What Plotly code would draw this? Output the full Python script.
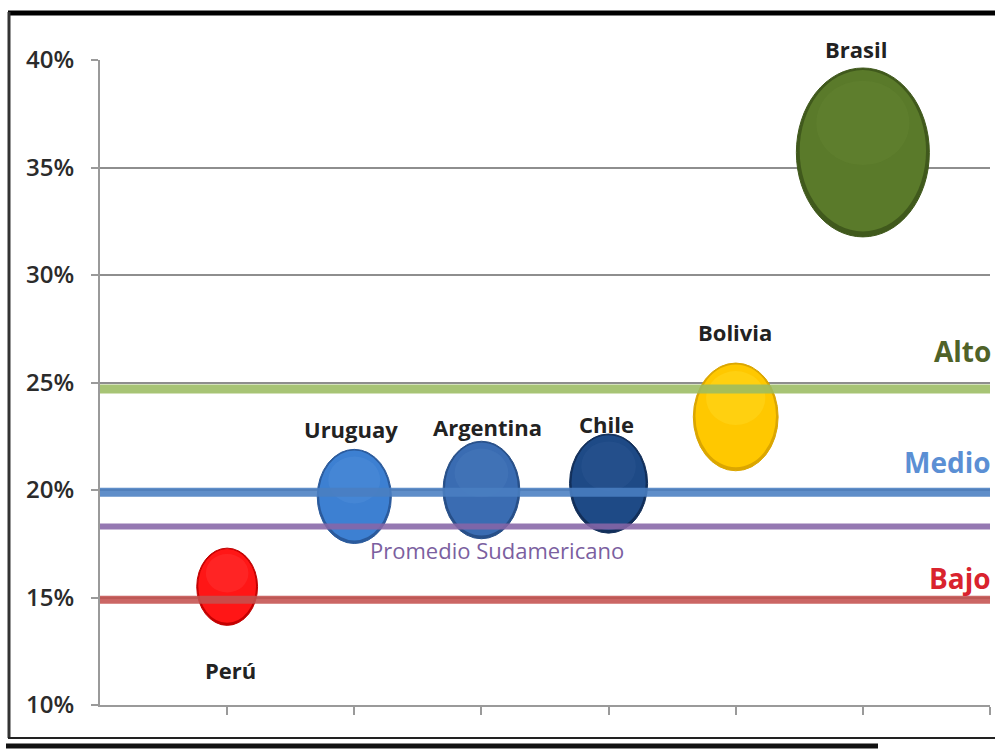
import math
import plotly.graph_objects as go

# --- data -------------------------------------------------------------
paises = ["Perú", "Uruguay", "Argentina", "Chile", "Bolivia", "Brasil"]
posicion = [1, 2, 3, 4, 5, 6]
tasa = [15.5, 19.7, 20.0, 20.3, 23.4, 35.7]          # % value of each country
tamano = [3.7, 5.5, 5.9, 6.1, 7.2, 17.7]              # bubble size (area)

niveles = ["Alto", "Medio", "Promedio Sudamericano", "Bajo"]
nivel_valor = [24.7, 19.9, 18.3, 14.9]

y_ticks = [10, 15, 20, 25, 30, 35, 40]
y_tick_text = ["10%", "15%", "20%", "25%", "30%", "35%", "40%"]

# --- styles -----------------------------------------------------------
W, H = 995, 755
ML, MR, MT, MB = 100, 5, 60, 50
X_RANGE = [0, 7]
Y_RANGE = [10, 40]
PLOT_W = W - ML - MR
PLOT_H = H - MT - MB
PX_X = PLOT_W / (X_RANGE[1] - X_RANGE[0])
PX_Y = PLOT_H / (Y_RANGE[1] - Y_RANGE[0])

bubble_fill = ["#ff1616", "#3d80d2", "#3a6cb2", "#1e4a86", "#ffc800", "#5a7a2a"]
bubble_edge = ["#c40000", "#2a5a9c", "#274f88", "#122f5a", "#dba600", "#40591c"]
bubble_hi = ["#ff5050", "#5f99e0", "#5585c4", "#36619a", "#ffe640", "#6b8a38"]
MAX_W = 133
ASPECT = 1.27
label_shift = [-83, 67, 63, 60, 85, 103]
label_xshift = [3, -3, 6, -2, -1, -7]

nivel_color = ["#9cbc62", "#4a7fc2", "#8766a8", "#c4524f"]
nivel_width = [9, 9, 6, 8]
nivel_text_color = ["#4f6228", "#5b8fd4", "#7b5fa0", "#d9232e"]

fig = go.Figure()

# horizontal level lines, drawn above the bubbles
for name, val, col, lw in zip(niveles, nivel_valor, nivel_color, nivel_width):
    fig.add_trace(go.Scatter(
        x=[X_RANGE[0], X_RANGE[1]], y=[val, val], mode="lines",
        line=dict(color=col, width=lw), opacity=0.88,
        name=name, showlegend=False, hoverinfo="skip"))

# bubbles as ellipses in data coordinates
shapes = []
for xi, yi, s, fc, ec, hc in zip(posicion, tasa, tamano, bubble_fill, bubble_edge, bubble_hi):
    w = MAX_W * math.sqrt(s / max(tamano))
    h = w * ASPECT
    rx, ry = w / 2 / PX_X, h / 2 / PX_Y
    shapes.append(dict(type="circle", xref="x", yref="y", layer="between",
                       x0=xi - rx, x1=xi + rx, y0=yi - ry, y1=yi + ry,
                       fillcolor=ec, line=dict(color=ec, width=1)))
    ix, iy = rx * 0.95, ry * 0.955
    shapes.append(dict(type="circle", xref="x", yref="y", layer="between",
                       x0=xi - ix, x1=xi + ix, y0=yi - iy + ry * 0.02, y1=yi + iy + ry * 0.02,
                       fillcolor=fc, line=dict(width=0)))
    hx, hy = rx * 0.7, ry * 0.5
    cy = yi + ry * 0.35
    shapes.append(dict(type="circle", xref="x", yref="y", layer="between",
                       x0=xi - hx, x1=xi + hx, y0=cy - hy, y1=cy + hy,
                       fillcolor=hc, opacity=0.25, line=dict(width=0)))

# frame around the chart (pixel -> paper coordinates)
def px(xp):
    return (xp - ML) / PLOT_W


def py(yp):
    return (H - MB - yp) / PLOT_H


frame = [
    (8, 13, 995, 13, "#000000", 5),
    (9, 12, 9, 738, "#333333", 3),
    (8, 738, 995, 738, "#222222", 2),
    (6, 746, 878, 746, "#111111", 5),
]
for x0, y0, x1, y1, col, lw in frame:
    shapes.append(dict(type="line", xref="paper", yref="paper",
                       x0=px(x0), y0=py(y0), x1=px(x1), y1=py(y1),
                       line=dict(color=col, width=lw), layer="above"))

annotations = []
for p, xi, yi, ys, xs in zip(paises, posicion, tasa, label_shift, label_xshift):
    annotations.append(dict(x=xi, y=yi, xref="x", yref="y", text=p, showarrow=False,
                            yshift=ys, xshift=xs,
                            font=dict(family="Open Sans", size=22, color="#222222", weight="bold")))

level_label_shift = [38, 30, -23, 22]
for name, val, col, ys in zip(niveles, nivel_valor, nivel_text_color, level_label_shift):
    if name == "Promedio Sudamericano":
        annotations.append(dict(x=3.12, y=val, xref="x", yref="y", text=name, showarrow=False,
                                yshift=ys,
                                font=dict(family="Open Sans", size=22, color=col)))
    else:
        annotations.append(dict(x=X_RANGE[1], y=val, xref="x", yref="y", text=name, showarrow=False,
                                xanchor="right", yshift=ys, xshift=3,
                                font=dict(family="Open Sans", size=28, color=col, weight="bold")))

fig.update_layout(
    width=W, height=H,
    margin=dict(l=ML, r=MR, t=MT, b=MB),
    paper_bgcolor="#ffffff", plot_bgcolor="#ffffff",
    shapes=shapes, annotations=annotations,
    showlegend=False,
    xaxis=dict(range=X_RANGE, tickvals=[1, 2, 3, 4, 5, 6, 7], showticklabels=False,
               ticks="outside", ticklen=8, tickcolor="#9a9a9a", tickwidth=1.5,
               showline=True, linecolor="#9a9a9a", linewidth=2, showgrid=False, zeroline=False,
               fixedrange=True),
    yaxis=dict(range=Y_RANGE, tickvals=y_ticks, ticktext=y_tick_text,
               ticks="outside", ticklen=7, tickcolor="#9a9a9a", tickwidth=1.5,
               ticklabelstandoff=12,
               tickfont=dict(family="Open Sans", size=24, color="#2b2b2b", weight=600),
               showline=True, linecolor="#9a9a9a", linewidth=2,
               showgrid=True, gridcolor="#8e8e8e", gridwidth=2, zeroline=False,
               fixedrange=True),
)

fig.write_html("out.html")
